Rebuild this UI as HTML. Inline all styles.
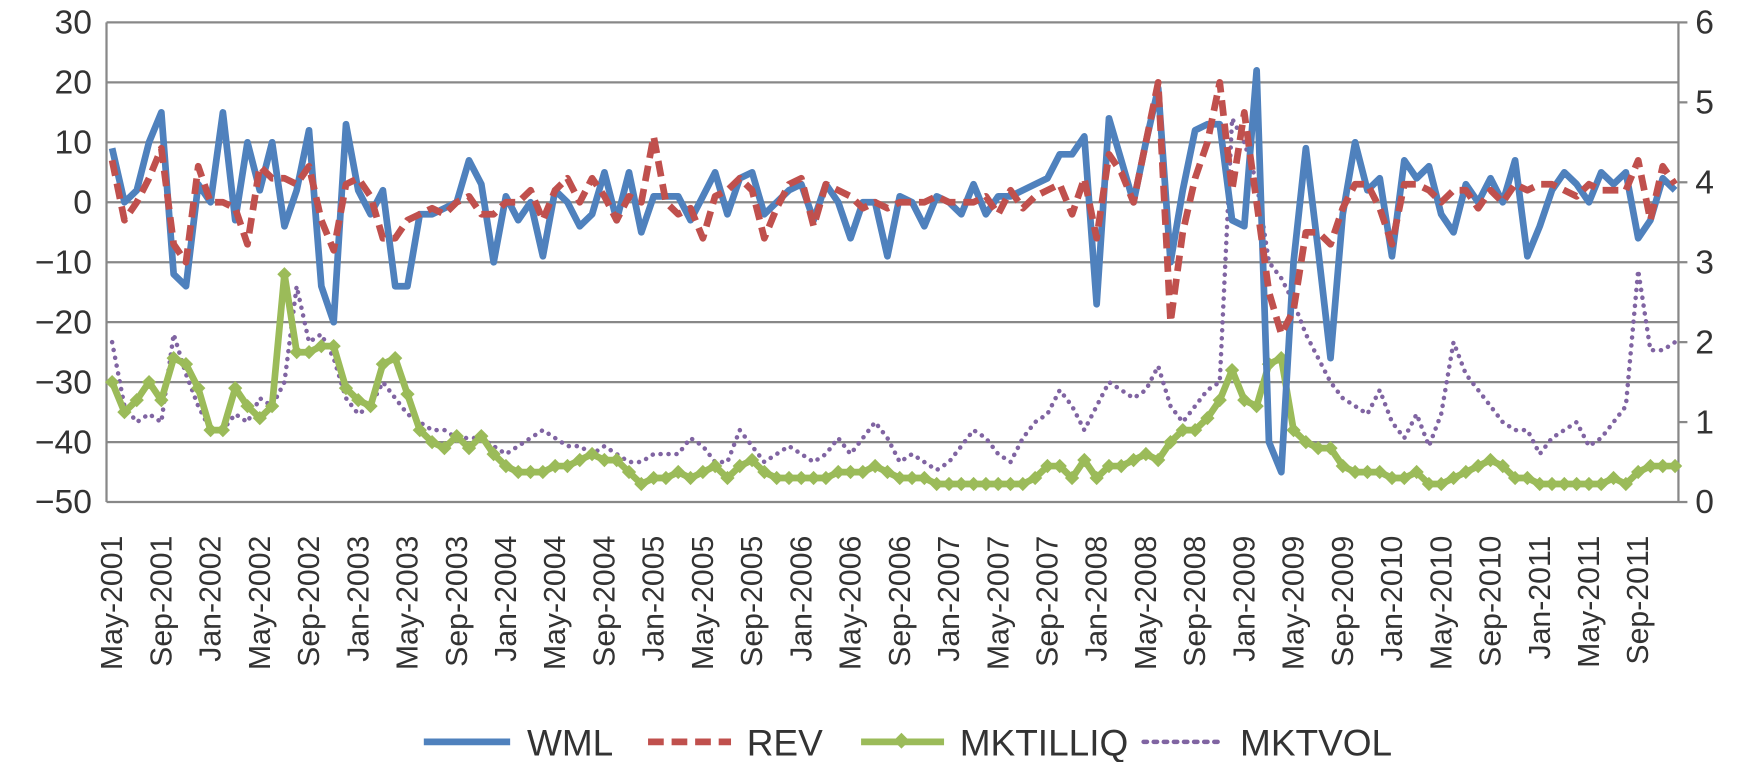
<!DOCTYPE html>
<html><head><meta charset="utf-8"><style>
html,body{margin:0;padding:0;background:#fff;}
svg{display:block;font-family:"Liberation Sans",sans-serif;}
</style></head><body>
<svg id="chart" width="1758" height="762" viewBox="0 0 1758 762" xmlns="http://www.w3.org/2000/svg">
<g transform="scale(1.1212 1.1206)">
<g id="grid"></g>
<g id="yl"></g>
<g id="yr"></g>
<g id="xl"></g>
<g id="series"></g>
<g id="legend">
  <g><line x1="378" y1="662" x2="455" y2="662" stroke="#4f81bd" stroke-width="6"/><text x="470" y="674" font-size="33" fill="#333">WML</text></g>
  <g><line x1="578" y1="662" x2="652" y2="662" stroke="#c0504d" stroke-width="6" stroke-dasharray="14,7"/><text x="666" y="674" font-size="33" fill="#333">REV</text></g>
  <g><line x1="768" y1="662" x2="842" y2="662" stroke="#9bbb59" stroke-width="6"/><rect x="799" y="656" width="10" height="10" fill="#9bbb59" transform="rotate(45 804 661)"/><text x="856" y="674" font-size="33" fill="#333">MKTILLIQ</text></g>
  <g><line x1="1020" y1="662" x2="1092" y2="662" stroke="#8064a2" stroke-width="4" stroke-dasharray="3,6" stroke-linecap="round"/><text x="1106" y="674" font-size="33" fill="#333">MKTVOL</text></g>
</g>
</g>
</svg>
<script>
const months = ["May","Jun","Jul","Aug","Sep","Oct","Nov","Dec","Jan","Feb","Mar","Apr"];
const startYear = 2001;
const leftTicks = [30,20,10,0,-10,-20,-30,-40,-50];
const rightTicks = [6,5,4,3,2,1,0];
const wml = [9,0,2,10,15,-12,-14,3,0,15,-3,10,2,10,-4,2,12,-14,-20,13,2,-2,2,-14,-14,-2,-2,-1,0,7,3,-10,1,-3,0,-9,2,0,-4,-2,5,-3,5,-5,1,1,1,-3,1,5,-2,4,5,-2,0,2,3,-3,3,0,-6,0,0,-9,1,0,-4,1,0,-2,3,-2,1,1,2,3,4,8,8,11,-17,14,7,0,10,19,-10,2,12,13,13,-3,-4,22,-40,-45,-10,9,-8,-26,-2,10,2,4,-9,7,4,6,-2,-5,3,0,4,0,7,-9,-4,2,5,3,0,5,3,5,-6,-3,4,2];
const rev = [7,-3,0,4,9,-7,-10,6,0,0,-1,-7,6,4,4,3,6,-3,-8,3,4,1,-6,-6,-3,-2,-1,-2,0,1,-2,-2,0,0,2,-3,2,4,0,4,1,-3,1,0,11,0,-2,-1,-6,1,2,4,2,-6,-1,3,4,-4,3,2,1,-1,0,-1,0,0,0,1,0,0,0,1,-2,2,-1,1,2,3,-2,4,-6,8,5,0,10,20,-20,-5,4,10,20,2,15,0,-15,-22,-18,-5,-5,-7,-1,3,3,-1,-7,3,3,2,0,2,2,-1,2,0,3,2,3,3,2,1,3,2,2,2,7,-3,6,3];
const illiq = [-30,-35,-33,-30,-33,-26,-27,-31,-38,-38,-31,-34,-36,-34,-12,-25,-25,-24,-24,-31,-33,-34,-27,-26,-32,-38,-40,-41,-39,-41,-39,-42,-44,-45,-45,-45,-44,-44,-43,-42,-43,-43,-45,-47,-46,-46,-45,-46,-45,-44,-46,-44,-43,-45,-46,-46,-46,-46,-46,-45,-45,-45,-44,-45,-46,-46,-46,-47,-47,-47,-47,-47,-47,-47,-47,-46,-44,-44,-46,-43,-46,-44,-44,-43,-42,-43,-40,-38,-38,-36,-33,-28,-33,-34,-27,-26,-38,-40,-41,-41,-44,-45,-45,-45,-46,-46,-45,-47,-47,-46,-45,-44,-43,-44,-46,-46,-47,-47,-47,-47,-47,-47,-46,-47,-45,-44,-44,-44];
const vol = [2.0,1.2,1.0,1.1,1.0,2.1,1.6,1.2,0.9,0.9,1.1,1.0,1.3,1.2,1.5,2.7,2.0,2.1,1.8,1.3,1.1,1.2,1.5,1.3,1.1,1.0,0.9,0.9,0.8,0.8,0.8,0.7,0.6,0.7,0.8,0.9,0.8,0.7,0.7,0.6,0.7,0.6,0.5,0.5,0.6,0.6,0.6,0.8,0.7,0.5,0.5,0.9,0.7,0.5,0.6,0.7,0.6,0.5,0.6,0.8,0.6,0.8,1.0,0.8,0.5,0.6,0.5,0.4,0.5,0.7,0.9,0.8,0.6,0.5,0.8,1.0,1.1,1.4,1.2,0.9,1.2,1.5,1.4,1.3,1.4,1.7,1.2,1.0,1.2,1.4,1.5,4.8,4.5,4.0,3.0,2.8,2.5,2.1,1.8,1.5,1.3,1.2,1.1,1.4,1.0,0.8,1.1,0.7,1.1,2.0,1.6,1.4,1.2,1.0,0.9,0.9,0.6,0.8,0.9,1.0,0.7,0.8,1.0,1.2,2.9,1.9,1.9,2.0];

const NS="http://www.w3.org/2000/svg";
const X0=95, X1=1497, Y0=20, Y1=448;
const n = wml.length;
function xs(i){return 100 + i*(1494-100)/(n-1);}
function yl(v){return Y1 - (v+50)/80*(Y1-Y0);}
function yr(v){return Y1 - v/6*(Y1-Y0);}
function mk(tag,attrs,parent){const e=document.createElementNS(NS,tag);for(const k in attrs)e.setAttribute(k,attrs[k]);parent.appendChild(e);return e;}
const grid=document.getElementById('grid'),gl=document.getElementById('yl'),gr=document.getElementById('yr'),gx=document.getElementById('xl'),gs=document.getElementById('series');
leftTicks.forEach(t=>{
  const ln=mk('line',{x1:X0,x2:X1,y1:yl(t),y2:yl(t),stroke:'#888','stroke-width':2},grid);
  
  
  const tx=mk('text',{x:82,y:yl(t)+10,'text-anchor':'end','font-size':30,fill:'#333'},gl);
  tx.textContent=(t<0?'\u2212'+(-t):t);
  
  
});
mk('line',{x1:X0,x2:X0,y1:Y0,y2:Y1,stroke:'#888','stroke-width':2},gl);
mk('line',{x1:X1,x2:X1,y1:Y0,y2:Y1,stroke:'#888','stroke-width':2},gr);
rightTicks.forEach(t=>{
  mk('line',{x1:X1,x2:X1+8,y1:yr(t),y2:yr(t),stroke:'#888','stroke-width':2},gr);
  const tx=mk('text',{x:1512,y:yr(t)+10,'font-size':30,fill:'#333'},gr);
  tx.textContent=t;
  
  
});
for(let i=0;i<n;i+=4){
  const m=months[i%12], yr_=startYear+Math.floor((i+4)/12);
  const x=xs(i)+9;
  const tx=mk('text',{x:x,y:478,'text-anchor':'end','font-size':27,fill:'#333',transform:`rotate(-90 ${x} 478)`},gx);
  tx.textContent=m+'-'+yr_;
  
  
}
function path(arr,fy){return arr.map((v,i)=>(i?'L':'M')+xs(i).toFixed(1)+' '+fy(v).toFixed(1)).join(' ');}
const pv=mk('path',{d:path(vol,yr),fill:'none',stroke:'#8064a2','stroke-width':4,'stroke-dasharray':'0.1,7','stroke-linecap':'round'},gs);


const pi=mk('path',{d:path(illiq,yl),fill:'none',stroke:'#9bbb59','stroke-width':6,'stroke-linejoin':'round'},gs);


illiq.forEach((v,i)=>{
  const r=mk('rect',{x:xs(i)-4.5,y:yl(v)-4.5,width:9,height:9,fill:'#9bbb59',transform:`rotate(45 ${xs(i)} ${yl(v)})`},gs);
  
  
});
const pw=mk('path',{d:path(wml,yl),fill:'none',stroke:'#4f81bd','stroke-width':6,'stroke-linejoin':'round'},gs);


const pr=mk('path',{d:path(rev,yl),fill:'none',stroke:'#c0504d','stroke-width':6,'stroke-dasharray':'14,7','stroke-linejoin':'round'},gs);


</script>
</body></html>
